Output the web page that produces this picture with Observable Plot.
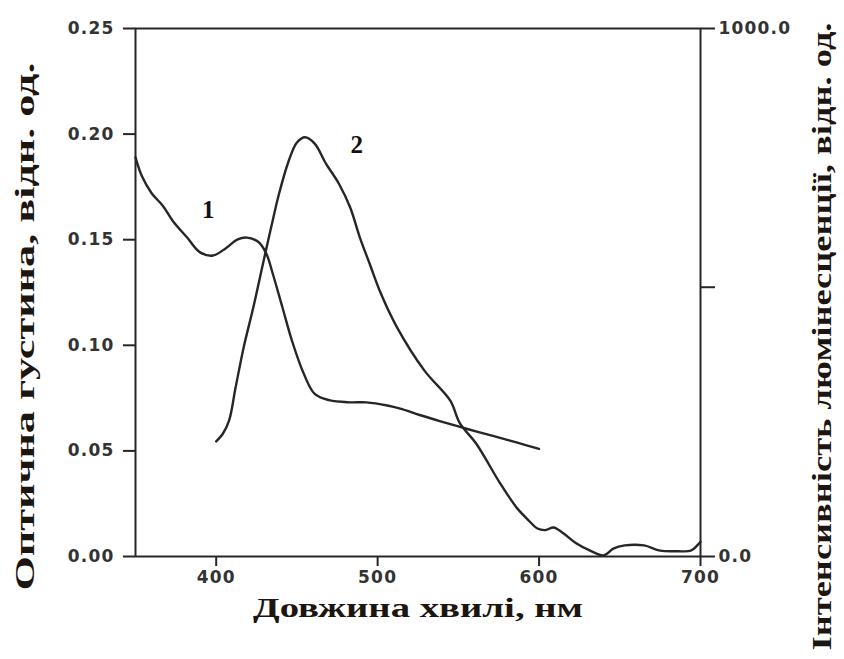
<!DOCTYPE html>
<html><head><meta charset="utf-8">
<script src="https://cdn.jsdelivr.net/npm/d3@7"></script>
<script src="https://cdn.jsdelivr.net/npm/@observablehq/plot@0.6"></script>
<style>
body{margin:0;background:#fff;}
#chart svg{display:block;}
</style></head><body><div id="chart"></div>
<script>
// Curve 1: absorption (optical density, left axis)
const absWavelength = [350,354,360,367,373,382,390,398,406,413,419,426,431,435,441,447,454,461,470,483,493,506,514,526,539,555,572,586,600];
const absDensity = [0.189,0.180,0.172,0.166,0.159,0.151,0.144,0.1425,0.146,0.150,0.151,0.149,0.1435,0.134,0.118,0.102,0.087,0.077,0.074,0.073,0.073,0.0715,0.070,0.067,0.064,0.0605,0.057,0.054,0.051];
// Curve 2: luminescence intensity (right axis)
const lumWavelength = [400,404,408,412,417,423,429,434,439,445,450,455,461,468,476,483,489,495,502,512,529,545,551,561,576,586,593,599,604,609,615,623,631,640,646,653,665,675,686,694,698,700];
const lumIntensity = [218,232,258,320,396,472,555,623,688,750,784,794,782,744,706,661,604,555,498,434,352,295,252,214,138,93,70,53,50,55,44,25,12,2,15,21,21,11,10,11,21,28];

const xTicks = [400,500,600,700];
const leftTicks = [0,0.05,0.10,0.15,0.20,0.25];
const rightTicks = [0,510,1000];
const rightTickLabels = ["0.0","","1000.0"];
const curveNames = ["1","2"];
const curveNameX = [395,487];
const curveNameY = [0.164,0.195];
const xTitle = "Довжина хвилі, нм";
const yLeftTitle = "Оптична густина, відн. од.";
const yRightTitle = "Інтенсивність люмінесценції, відн. од.";

const ODmax = 0.25, Imax = 1000;
const absData = absWavelength.map((w,i)=>({w, v:absDensity[i]}));
const lumData = lumWavelength.map((w,i)=>({w, v:lumIntensity[i]*ODmax/Imax}));
const nameData = curveNames.map((t,i)=>({t, x:curveNameX[i], y:curveNameY[i]}));

const ink = "#262626";
const titleFont = {fontFamily:"Liberation Serif", fontWeight:"bold", fontSize:28, fill:"#1c1510", textAnchor:"middle", lineAnchor:"middle"};

const plot = Plot.plot({
  width:844, height:659,
  marginLeft:135, marginRight:144, marginTop:28, marginBottom:103,
  x:{domain:[350,700]},
  y:{domain:[0,0.25]},
  style:{fontFamily:"DejaVu Sans", fontWeight:"bold", fontSize:"17px", color:"#333", background:"#fff"},
  marks:[
    Plot.axisX({ticks:xTicks, tickSize:10, tickPadding:4, tickFormat:d=>String(d), label:null, stroke:ink, strokeWidth:2}),
    Plot.axisY({ticks:leftTicks, tickSize:12, tickPadding:9, tickFormat:d=>d.toFixed(2), label:null, stroke:ink, strokeWidth:2}),
    Plot.axisY({anchor:"right", ticks:rightTicks.map(v=>v*ODmax/Imax), tickSize:14, tickPadding:4,
      tickFormat:(d)=>rightTickLabels[rightTicks.indexOf(Math.round(d*Imax/ODmax))], label:null, stroke:ink, strokeWidth:2}),
    Plot.frame({stroke:ink, strokeWidth:2}),
    Plot.line(absData, {x:"w", y:"v", stroke:ink, strokeWidth:2.4, curve:"catmull-rom"}),
    Plot.line(lumData, {x:"w", y:"v", stroke:ink, strokeWidth:2.4, curve:"catmull-rom"}),
    Plot.text(nameData, {x:"x", y:"y", text:"t", fontFamily:"Liberation Serif", fontWeight:"bold", fontSize:25, fill:"#111"}),
    Plot.text([xTitle], {frameAnchor:"bottom", dy:52, ...titleFont}),
    Plot.text([yLeftTitle], {frameAnchor:"left", dx:-110, dy:34, rotate:-90, ...titleFont}),
    Plot.text([yRightTitle], {frameAnchor:"right", dx:122, dy:44, rotate:-90, ...titleFont})
  ]
});
document.getElementById("chart").appendChild(plot);

const stretch = {[xTitle]:330, [yLeftTitle]:528, [yRightTitle]:628};
d3.select(plot).selectAll("text").each(function(){
  const t = this.textContent;
  if (stretch[t]) {
    d3.select(this).attr("textLength", stretch[t]).attr("lengthAdjust","spacingAndGlyphs");
  }
});
d3.select(plot).selectAll('g[aria-label^="y-axis tick label"] text, g[aria-label^="x-axis tick label"] text')
  .style("letter-spacing","1.2px");
</script></body></html>
